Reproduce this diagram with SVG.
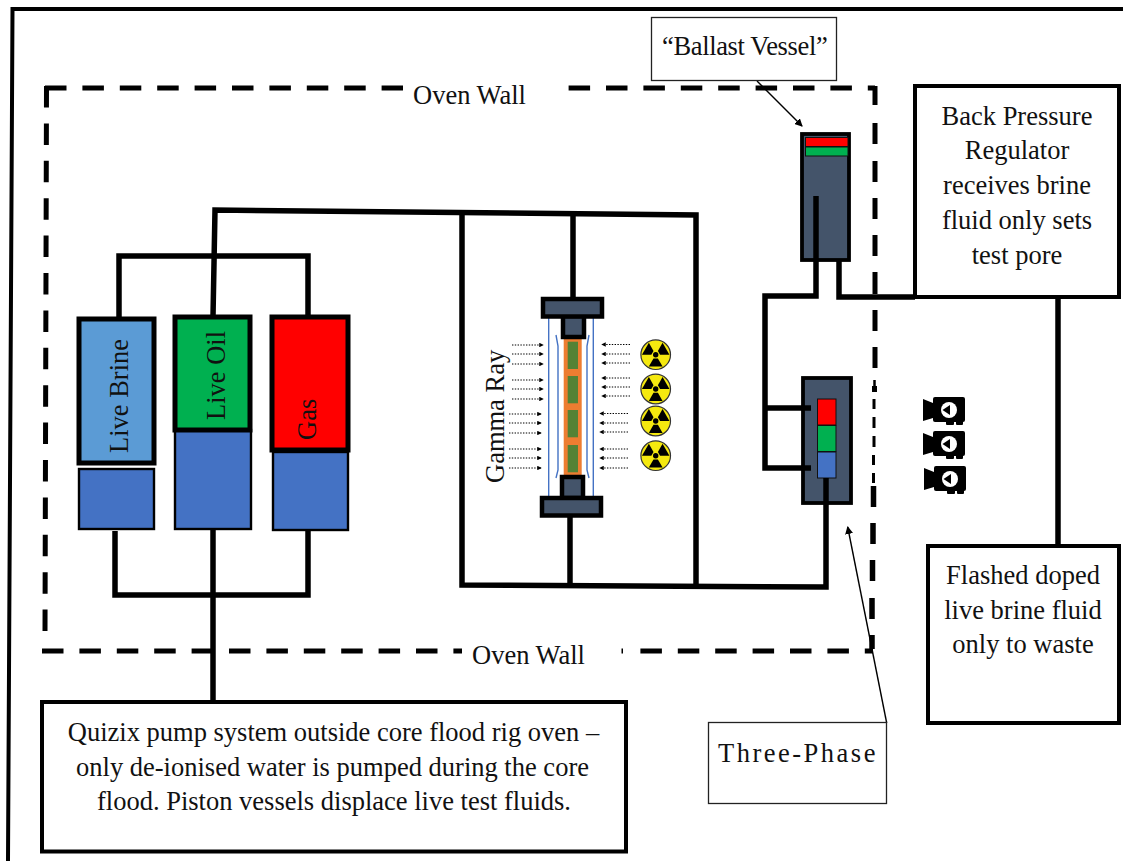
<svg xmlns="http://www.w3.org/2000/svg" width="1123" height="861" viewBox="0 0 1123 861">
<style>
text{font-family:"Liberation Serif","Times New Roman",serif;font-size:26.5px;fill:#111}
.m{text-anchor:middle}
.pipe{fill:none;stroke:#000;stroke-width:5.5;stroke-linejoin:miter}
.box{fill:#fff;stroke:#000;stroke-width:4}
.thin{fill:#fff;stroke:#222;stroke-width:1.3}
.dash{fill:none;stroke:#000;stroke-width:5;stroke-dasharray:21.5 15.9}
.slate{fill:#44546A;stroke:#000;stroke-width:4.5}
.vessel{fill:#44546A;stroke:#000;stroke-width:3.8}
.ray{fill:none;stroke:#000;stroke-width:1.2;stroke-dasharray:1.4 1.4}
.rr{marker-end:url(#ah)}
.blue{fill:none;stroke:#4472C4;stroke-width:1.4}
.lead{fill:none;stroke:#000;stroke-width:1.4;marker-end:url(#lead)}
.piston{fill:#4472C4;stroke:#000;stroke-width:2.4}
.fluid{stroke:#000;stroke-width:5}
</style>
<defs>
<marker id="ah" markerUnits="userSpaceOnUse" viewBox="0 0 6 6" refX="5" refY="3" markerWidth="4.5" markerHeight="4.5" orient="auto"><path d="M0 0L6 3L0 6Z" fill="#000"/></marker>
<marker id="lead" markerUnits="userSpaceOnUse" viewBox="0 0 8 8" refX="7" refY="4" markerWidth="8" markerHeight="8" orient="auto"><path d="M0 0L8 4L0 8Z" fill="#000"/></marker>
<path id="wedge" d="M6.9 11.9L-6.9 11.9L-2.2 3.8L2.2 3.8Z" fill="#000"/>
<symbol id="rad" viewBox="-16 -16 32 32" width="32" height="32" overflow="visible">
<circle r="14.8" fill="#F5E90F" stroke="#333" stroke-width="1.2"/>
<use href="#wedge"/>
<use href="#wedge" transform="rotate(120)"/>
<use href="#wedge" transform="rotate(240)"/>
<circle r="2.7" fill="#000"/>
</symbol>
<symbol id="cam" viewBox="0 0 42 28" width="42" height="28">
<path d="M0 2L10 6V21L0 24Z" fill="#000"/>
<rect x="10" y="0" width="32" height="25" rx="2" fill="#000"/>
<rect x="23" y="23" width="8" height="5" rx="1" fill="#000"/>
<rect x="33" y="23" width="7" height="5" rx="1" fill="#000"/>
<circle cx="26" cy="13" r="8" fill="#fff"/>
<path d="M19.5 13L27 8V18Z" fill="#000"/>
</symbol>
</defs>
<rect width="1123" height="861" fill="#fff"/>

<g id="frame"><path d="M1123 9H12.500L8 861" fill="none" stroke="#000" stroke-width="4"/></g>

<g id="oven-wall">
<path class="dash" d="M45 88H403M568.600 88H875"/>
<path class="dash" d="M46.500 86L45 632"/>
<path class="dash" d="M42 651H462M640.400 651H873"/>
<path d="M621.500 651H623" fill="none" stroke="#000" stroke-width="5"/>
<path fill="none" stroke="#000" stroke-width="5" d="M875 86V105M875 123V144M875 161V182M875 198V219M875 235V256M875 272V294M875 310V331M875 347V368M874.500 386V392"/>
<path fill="none" stroke="#000" stroke-width="3" d="M874 399V409M874 417V428M874 436V447M873.500 455V465M873.500 473V483"/>
<path fill="none" stroke="#000" stroke-width="5.500" d="M873.500 486V507M873 523V544M872.500 560V581M872 598V619M872 635V649"/>
<path d="M874.500 380V388" fill="none" stroke="#000" stroke-width="2.500"/>
<text x="413" y="104">Oven Wall</text>
<text x="472" y="664">Oven Wall</text>
</g>

<g id="connectors">
<path class="pipe" d="M119 319V256H308V317"/>
<path class="pipe" d="M213 317L215 210L696 215V585"/>
<path class="pipe" d="M462 212V585L826 587V480"/>
<path class="pipe" d="M573 213V298"/>
<path class="pipe" d="M570 516V585"/>
<path class="pipe" d="M115 531V595H308V530"/>
<path class="pipe" d="M213 530V701"/>
<path class="pipe" d="M839 260V297H915"/>
<path class="pipe" d="M1058 297V545"/>
<path class="lead" d="M757 81L802 126"/>
<path class="lead" d="M886.700 723L847.700 527"/>
</g>

<g id="live-brine">
<rect class="fluid" x="79" y="319" width="75" height="144" fill="#5B9BD5"/>
<rect class="piston" x="79" y="469" width="75" height="60"/>
<text transform="translate(128 453) rotate(-90)">Live Brine</text>
</g>
<g id="live-oil">
<rect class="piston" x="175" y="430" width="76" height="99"/>
<rect class="fluid" x="175" y="317" width="75" height="113" fill="#00B050"/>
<text transform="translate(225 420) rotate(-90)">Live Oil</text>
</g>
<g id="gas">
<rect class="piston" x="273" y="452" width="75" height="78"/>
<rect class="fluid" x="272" y="317" width="76" height="133" fill="#FF0000"/>
<text transform="translate(316 440) rotate(-90)">Gas</text>
</g>

<g id="core-holder">
<path class="blue" d="M548.700 317V497M593.300 317V497"/>
<path class="blue" d="M556 335L558 346V470L556 478M589 335L587 346V470L589 478"/>
<rect x="563.700" y="339" width="18" height="136" fill="#ED7D31"/>
<rect x="567.700" y="341.700" width="10.300" height="27.300" fill="#548235"/>
<rect x="567.700" y="376" width="10.300" height="27.300" fill="#548235"/>
<rect x="567.700" y="410" width="10.300" height="27.300" fill="#548235"/>
<rect x="567.700" y="445" width="10.300" height="27.300" fill="#548235"/>
<rect class="slate" x="563" y="316" width="21" height="21"/>
<rect class="slate" x="562" y="477" width="21" height="21"/>
<rect class="slate" x="543" y="299" width="59" height="17.500"/>
<rect class="slate" x="542" y="498" width="59" height="17.500"/>
</g>

<g id="gamma-ray">
<text transform="translate(504 483) rotate(-90)">Gamma Ray</text>
<path class="ray rr" d="M512 345H543"/><path class="ray rr" d="M512 354H543"/><path class="ray rr" d="M512 364H543"/>
<path class="ray rr" d="M512 380H543"/><path class="ray rr" d="M512 389H543"/><path class="ray rr" d="M512 399H543"/>
<path class="ray rr" d="M509 414H541"/><path class="ray rr" d="M509 423H541"/><path class="ray rr" d="M509 433H541"/>
<path class="ray rr" d="M509 449H541"/><path class="ray rr" d="M509 458H541"/><path class="ray rr" d="M509 468H541"/>
<path class="ray rr" d="M630 344.500H602"/><path class="ray rr" d="M630 354H602"/><path class="ray rr" d="M630 363H602"/>
<path class="ray rr" d="M630 378H602"/><path class="ray rr" d="M630 387H602"/><path class="ray rr" d="M630 396H602"/>
<path class="ray rr" d="M628 413.500H600"/><path class="ray rr" d="M628 423H600"/><path class="ray rr" d="M628 432H600"/>
<path class="ray rr" d="M628 449H600"/><path class="ray rr" d="M628 458H600"/><path class="ray rr" d="M628 468H600"/>
<use href="#rad" x="639.700" y="338.700"/>
<use href="#rad" x="639.700" y="373"/>
<use href="#rad" x="639.700" y="405"/>
<use href="#rad" x="639.700" y="439.700"/>
</g>

<g id="ballast-vessel">
<rect class="vessel" x="802" y="134" width="47" height="126"/>
<rect x="805.500" y="137.500" width="42.500" height="9" fill="#FF0000" stroke="#111" stroke-width="1"/>
<rect x="805.500" y="147" width="42.500" height="9" fill="#00B050" stroke="#111" stroke-width="1"/>
</g>
<g id="ballast-pipes">
<path class="pipe" d="M816 196V296H765V468H811M765 408H811"/>
</g>

<g id="three-phase">
<rect class="vessel" x="803" y="378" width="48" height="125"/>
<rect x="817.500" y="399" width="18.500" height="26" fill="#FF0000" stroke="#111" stroke-width="1"/>
<rect x="817.500" y="425.500" width="18.500" height="26" fill="#00B050" stroke="#111" stroke-width="1"/>
<rect x="817.500" y="452" width="18.500" height="26" fill="#4472C4" stroke="#111" stroke-width="1"/>
<path d="M803 408H811M803 468H811" fill="none" stroke="#000" stroke-width="5.500"/>
<path d="M826 478V503" fill="none" stroke="#000" stroke-width="5.500"/>
</g>

<g id="cameras">
<use href="#cam" x="923" y="397"/>
<use href="#cam" x="923" y="431"/>
<use href="#cam" x="924" y="466"/>
</g>

<g id="ballast-label">
<rect class="thin" x="651.500" y="17.500" width="185" height="63"/>
<text x="662" y="55" style="letter-spacing:-0.35px">“Ballast Vessel”</text>
</g>
<g id="three-phase-label">
<rect class="thin" x="708.500" y="722.500" width="178" height="81"/>
<text x="718" y="762" style="letter-spacing:2.5px">Three-Phase</text>
</g>
<g id="back-pressure-regulator">
<rect class="box" x="915" y="86" width="204" height="211"/>
<text class="m" x="1017" y="125">Back Pressure</text>
<text class="m" x="1017" y="159">Regulator</text>
<text class="m" x="1017" y="194">receives brine</text>
<text class="m" x="1017" y="229">fluid only sets</text>
<text class="m" x="1017" y="263.500">test pore</text>
</g>
<g id="waste">
<rect class="box" x="928" y="546" width="191" height="177"/>
<text class="m" x="1023" y="584">Flashed doped</text>
<text class="m" x="1023" y="618.500">live brine fluid</text>
<text class="m" x="1023" y="653">only to waste</text>
</g>
<g id="quizix">
<rect class="box" x="42" y="702" width="584" height="149.500"/>
<text class="m" x="333.500" y="741">Quizix pump system outside core flood rig oven –</text>
<text class="m" x="332.500" y="775.500">only de-ionised water is pumped during the core</text>
<text class="m" x="334" y="810">flood. Piston vessels displace live test fluids.</text>
</g>
</svg>
